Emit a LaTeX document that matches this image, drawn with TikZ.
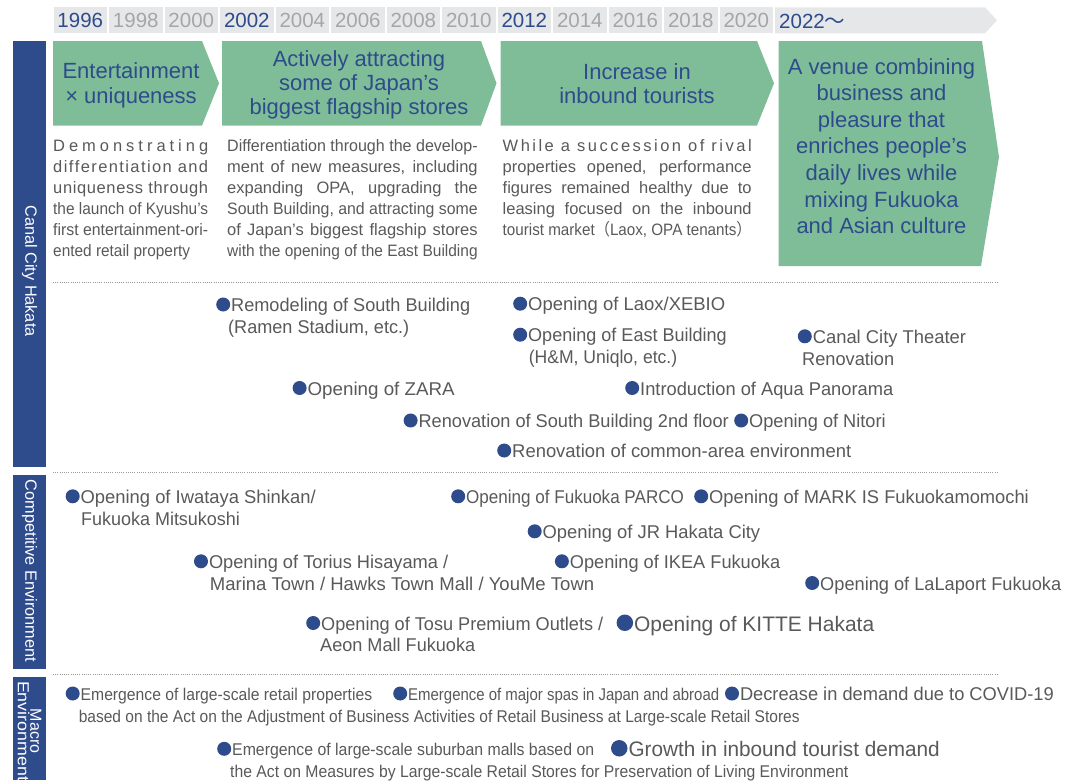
\documentclass[tikz,border=0pt]{standalone}
\usepackage{fontspec}
\setmainfont{Liberation Sans}
\newfontfamily\cjkfont{Noto Sans CJK JP}
\usepackage{graphicx}
\definecolor{cnavy}{HTML}{2E4B8B}
\definecolor{cgreen}{HTML}{7FBD99}
\definecolor{tgray}{HTML}{595959}
\definecolor{ygray}{HTML}{A6A6A6}
\definecolor{tlgray}{HTML}{E6E7E8}
\definecolor{dotc}{HTML}{9A9A9A}
\newlength\fwlen
\newsavebox\fwbox
% justified line: stretch if short, squeeze if long
\newcommand\jl[2]{\setlength\fwlen{#1pt}\sbox\fwbox{#2}\ifdim\wd\fwbox>\fwlen\resizebox{\fwlen}{\height}{\usebox\fwbox}\else\makebox[\fwlen][s]{#2}\fi}
% bullet dot
\newcommand\bdot[1]{\tikz[baseline=-#1pt]\fill[cnavy] (0,0) circle (#1pt);}
% first line of a bullet item: [radius]{total width}{text}
\newcommand\bA[3][7]{\hbox{\bdot{#1}\hspace{1pt}\setlength\fwlen{#2pt}\addtolength\fwlen{-#1pt}\addtolength\fwlen{-#1pt}\addtolength\fwlen{-1pt}\resizebox{\fwlen}{\height}{#3}}}
% following line: {indent}{width}{text}
\newcommand\bB[3]{\hbox{\hspace*{#1pt}\setlength\fwlen{#2pt}\resizebox{\fwlen}{\height}{#3}}}
% centred line of zero width
\newcommand\cl[1]{\hbox to 0pt{\hss#1\hss}}
\begin{document}
\begin{tikzpicture}[x=1pt,y=-1pt,
  yearcell/.style={fill=tlgray, minimum width=53.6pt, minimum height=26pt, inner sep=0pt, font=\fontsize{20.5}{20.5}\selectfont},
  chev/.style={fill=cgreen},
  chevtext/.style={anchor=base, inner sep=0pt, text=cnavy, font=\fontsize{22}{#1}\selectfont},
  desc/.style={anchor=base west, inner sep=0pt, text=tgray, font=\fontsize{16.5}{21}\selectfont},
  item/.style={anchor=base west, inner sep=0pt, text=tgray, font=\fontsize{18.5}{21.7}\selectfont},
  itemsmall/.style={item, font=\fontsize{17}{21.7}\selectfont},
  itembig/.style={item, font=\fontsize{21}{21.7}\selectfont},
  sidebar/.style={fill=cnavy},
  side/.style={rotate=-90, text=white, inner sep=0pt, font=\fontsize{16.3}{16.3}\selectfont},
  dotline/.style={draw=dotc, line width=1pt, dash pattern=on 1pt off 1.2pt}]
\useasboundingbox (0,0) rectangle (1066,780);

% ---------- timeline ----------
\foreach \yr/\c [count=\i from 0] in {1996/cnavy,1998/ygray,2000/ygray,2002/cnavy,2004/ygray,2006/ygray,2008/ygray,2010/ygray,2012/cnavy,2014/ygray,2016/ygray,2018/ygray,2020/ygray}
  \node[yearcell, text=\c] (y\i) at ({80.3+55.5*\i},20.3) {\yr};
\fill[tlgray] (775,7.3) -- (985,7.3) -- (997,20.3) -- (985,33.3) -- (775,33.3) -- cycle;
\node[anchor=base west, inner sep=0pt, text=cnavy, font=\fontsize{20.5}{20.5}\selectfont] (y13) at (779,28.3) {2022{\cjkfont ～}};

% ---------- side bars ----------
\fill[sidebar] (13,41) rectangle (46,467.3);
\fill[sidebar] (13,475) rectangle (46,669);
\fill[sidebar] (13,676.7) rectangle (46,780);
\node[side] (s1) at (29.5,271) {Canal City Hakata};
\node[side] (s2) at (29.5,571) {Competitive Environment};
\node[side, align=center, font=\fontsize{16}{12.5}\selectfont] (s3) at (29.5,731) {Macro\\\resizebox{100pt}{\height}{Environment}};

% ---------- chevrons ----------
\fill[chev] (53,41) -- (202,41) -- (219,83.3) -- (202,125.5) -- (53,125.5) -- cycle;
\fill[chev] (222,41) -- (481,41) -- (496.5,83.3) -- (481,125.5) -- (222,125.5) -- cycle;
\fill[chev] (500.5,41) -- (757,41) -- (774,83.3) -- (757,125.5) -- (500.5,125.5) -- cycle;
\fill[chev] (778.5,41) -- (982,41) -- (999,157) -- (981,266) -- (778.5,266) -- cycle;

\node[chevtext=24.5] (t1) at (131,78.5) {\vtop{\cl{Entertainment}\cl{× uniqueness}}};
\node[chevtext=24] (t2) at (359,66.5) {\vtop{\cl{Actively attracting}\cl{some of Japan’s}\cl{biggest flagship stores}}};
\node[chevtext=24] (t3) at (637,79.5) {\vtop{\cl{Increase in}\cl{inbound tourists}}};
\node[chevtext=26.6] (t4) at (881.5,74) {\vtop{\cl{A venue combining}\cl{business and}\cl{pleasure that}\cl{enriches people’s}\cl{daily lives while}\cl{mixing Fukuoka}\cl{and Asian culture}}};

% ---------- descriptions ----------
\node[desc] (d1) at (53,151.5) {\vtop{%
  \hbox{\jl{155}{D\hfil e\hfil m\hfil o\hfil n\hfil s\hfil t\hfil r\hfil a\hfil t\hfil i\hfil n\hfil g}}%
  \hbox{\jl{155}{d\hfil i\hfil f\hfil f\hfil e\hfil r\hfil e\hfil n\hfil t\hfil i\hfil a\hfil t\hfil i\hfil o\hfil n\hfil\ a\hfil n\hfil d}}%
  \hbox{\jl{155}{u\hfil n\hfil i\hfil q\hfil u\hfil e\hfil n\hfil e\hfil s\hfil s\hfil\ t\hfil h\hfil r\hfil o\hfil u\hfil g\hfil h}}%
  \hbox{\jl{155}{the launch of Kyushu’s}}%
  \hbox{\jl{155}{first entertainment-ori-}}%
  \hbox{\jl{137}{ented retail property}}}};
\node[desc] (d2) at (227,151.5) {\vtop{%
  \hbox{\jl{250.5}{Differentiation through the develop-}}%
  \hbox{\jl{250.5}{ment of new measures, including}}%
  \hbox{\jl{250.5}{expanding OPA, upgrading the}}%
  \hbox{\jl{250.5}{South Building, and attracting some}}%
  \hbox{\jl{250.5}{of Japan's biggest flagship stores}}%
  \hbox{\jl{250.5}{with the opening of the East Building}}}};
\node[desc] (d3) at (502.5,151.5) {\vtop{%
  \hbox{\jl{249}{W\hfil h\hfil i\hfil l\hfil e\hfil\ a\hfil\ s\hfil u\hfil c\hfil c\hfil e\hfil s\hfil s\hfil i\hfil o\hfil n\hfil\ o\hfil f\hfil\ r\hfil i\hfil v\hfil a\hfil l}}%
  \hbox{\jl{249}{properties opened, performance}}%
  \hbox{\jl{249}{figures remained healthy due to}}%
  \hbox{\jl{249}{leasing focused on the inbound}}%
  \hbox{\jl{249}{tourist market{\cjkfont （}Laox, OPA tenants{\cjkfont ）}}}}};

% ---------- separators ----------
\draw[dotline] (53,282.3) -- (998,282.3);
\draw[dotline] (53,472.5) -- (998,472.5);
\draw[dotline] (53,674) -- (998,674);

% ---------- Canal City Hakata items ----------
\node[item] (c1) at (216,311.5) {\vtop{\bA{254}{Remodeling of South Building}\bB{12}{181}{(Ramen Stadium, etc.)}}};
\node[item] (c2) at (513,310.7) {\vtop{\bA{212}{Opening of Laox/XEBIO}}};
\node[item] (c3) at (513,341.7) {\vtop{\bA{213.6}{Opening of East Building}\bB{15.6}{148.4}{(H\&M, Uniqlo, etc.)}}};
\node[item] (c4) at (797.6,343.3) {\vtop{\bA{168.2}{Canal City Theater}\bB{4.4}{92}{Renovation}}};
\node[item] (c5) at (292.4,395) {\vtop{\bA{162.1}{Opening of ZARA}}};
\node[item] (c6) at (625,395) {\vtop{\bA{268}{Introduction of Aqua Panorama}}};
\node[item] (c7) at (403.4,427.5) {\vtop{\bA{325.1}{Renovation of South Building 2nd floor}}};
\node[item] (c8) at (734,427.5) {\vtop{\bA{151.5}{Opening of Nitori}}};
\node[item] (c9) at (497,457.5) {\vtop{\bA{354}{Renovation of common-area environment}}};

% ---------- Competitive Environment items ----------
\node[item] (e1) at (65.5,503.3) {\vtop{\bA{250}{Opening of Iwataya Shinkan/}\bB{15.5}{158.7}{Fukuoka Mitsukoshi}}};
\node[item] (e2) at (451,503.3) {\vtop{\bA{232.7}{Opening of Fukuoka PARCO}}};
\node[item] (e3) at (694,503.3) {\vtop{\bA{334.6}{Opening of MARK IS Fukuokamomochi}}};
\node[item] (e4) at (527.5,538.3) {\vtop{\bA{232.5}{Opening of JR Hakata City}}};
\node[item] (e5) at (193.8,568.3) {\vtop{\bA{254.2}{Opening of Torius Hisayama /}\bB{15.9}{384.3}{Marina Town / Hawks Town Mall / YouMe Town}}};
\node[item] (e6) at (554.7,568.3) {\vtop{\bA{225.3}{Opening of IKEA Fukuoka}}};
\node[item] (e7) at (805,590) {\vtop{\bA{256}{Opening of LaLaport Fukuoka}}};
\node[item] (e8) at (306,630) {\vtop{\bA{297}{Opening of Tosu Premium Outlets /}\bB{14}{155}{Aeon Mall Fukuoka}}};
\node[itembig] (e9) at (616.4,631) {\vtop{\bA[8.25]{257.6}{Opening of KITTE Hakata}}};

% ---------- Macro Environment items ----------
\node[itemsmall] (m1) at (65.5,700.5) {\vtop{\bA{306.5}{Emergence of large-scale retail properties}\bB{13.1}{720.9}{based on the Act on the Adjustment of Business Activities of Retail Business at Large-scale Retail Stores}}};
\node[itemsmall] (m2) at (393,700.5) {\vtop{\bA{326}{Emergence of major spas in Japan and abroad}}};
\node[item] (m3) at (724.8,700.5) {\vtop{\bA{328.8}{Decrease in demand due to COVID-19}}};
\node[itemsmall] (m4) at (217,755.8) {\vtop{\bA{377}{Emergence of large-scale suburban malls based on}\bB{13}{618}{the Act on Measures by Large-scale Retail Stores for Preservation of Living Environment}}};
\node[itembig] (m5) at (610.8,756.5) {\vtop{\bA[8.25]{328.8}{Growth in inbound tourist demand}}};
\end{tikzpicture}
\end{document}
